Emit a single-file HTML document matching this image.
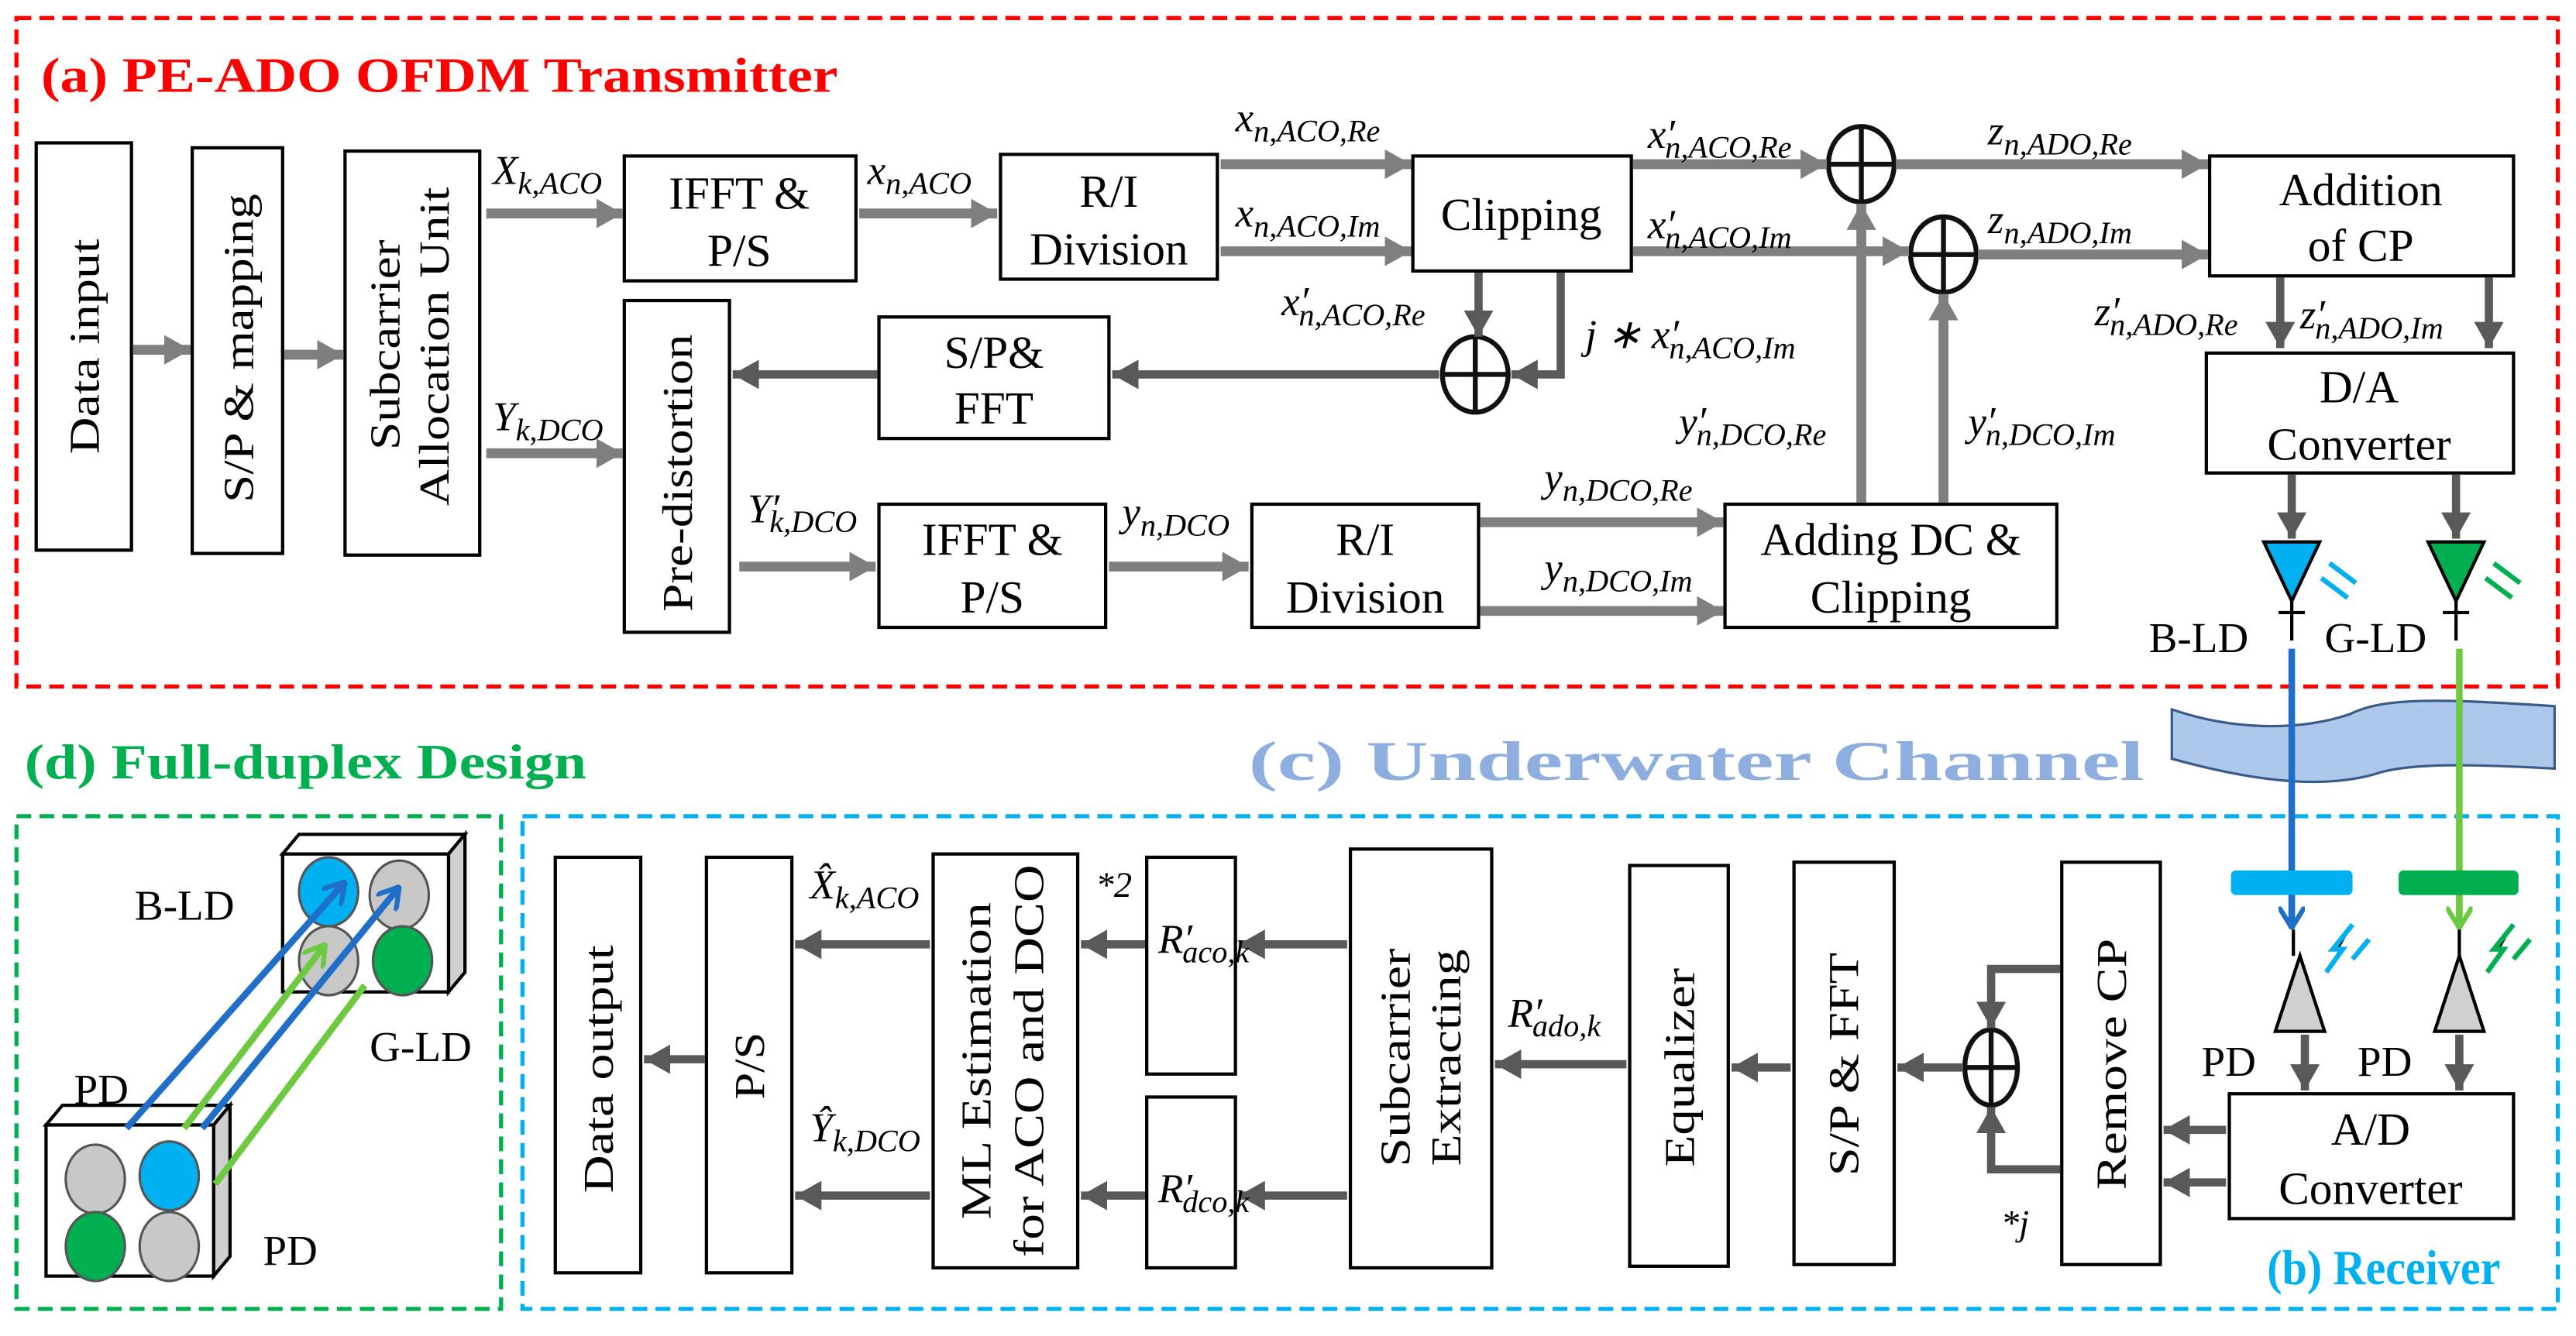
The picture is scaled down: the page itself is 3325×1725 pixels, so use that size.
<!DOCTYPE html>
<html><head><meta charset="utf-8"><style>
html,body{margin:0;padding:0;background:#fff;}
svg{display:block;}
text{font-family:"Liberation Serif",serif;}
.bt{font-size:28px;text-anchor:middle;}
.vt{font-size:26px;text-anchor:middle;}
.m{font-size:25px;font-style:italic;}
.s{font-size:19px;}
</style></head><body>
<svg width="3325" height="1725" viewBox="0 0 1568 813.5" xmlns="http://www.w3.org/2000/svg">
<defs>
<marker id="a" markerUnits="userSpaceOnUse" markerWidth="16" markerHeight="18" refX="16" refY="9" orient="auto"><path d="M0,0L16,9L0,18z" fill="#7f7f7f"/></marker>
<marker id="d" markerUnits="userSpaceOnUse" markerWidth="16" markerHeight="18" refX="16" refY="9" orient="auto"><path d="M0,0L16,9L0,18z" fill="#595959"/></marker>
<marker id="bl" markerUnits="userSpaceOnUse" markerWidth="14" markerHeight="16" refX="13" refY="8" orient="auto"><path d="M0,0L13,8L0,16" fill="none" stroke="#1f6fc8" stroke-width="3"/></marker>
<marker id="gr" markerUnits="userSpaceOnUse" markerWidth="14" markerHeight="16" refX="13" refY="8" orient="auto"><path d="M0,0L13,8L0,16" fill="none" stroke="#6cc940" stroke-width="3"/></marker>
</defs>
<rect width="1568" height="813.5" fill="#fff"/>
<rect x="10" y="11" width="1547" height="407" fill="none" stroke="#ff0000" stroke-width="2.5" stroke-dasharray="9,5"/>
<rect x="10" y="497" width="295" height="300" fill="none" stroke="#00b050" stroke-width="2.5" stroke-dasharray="9,5"/>
<rect x="318" y="497" width="1239" height="300" fill="none" stroke="#00b0f0" stroke-width="2.5" stroke-dasharray="9,5"/>
<text x="25" y="56" font-size="30" font-weight="bold" fill="#ff0000" textLength="485" lengthAdjust="spacingAndGlyphs">(a) PE-ADO OFDM Transmitter</text>
<text x="15" y="474" font-size="30" font-weight="bold" fill="#00b050" textLength="342" lengthAdjust="spacingAndGlyphs">(d) Full-duplex Design</text>
<text x="760" y="475" font-size="34" font-weight="bold" fill="#8eaee0" textLength="545" lengthAdjust="spacingAndGlyphs">(c) Underwater Channel</text>
<text x="1380" y="782" font-size="30" font-weight="bold" fill="#00b0f0" textLength="142" lengthAdjust="spacingAndGlyphs">(b) Receiver</text>

<g fill="#fff" stroke="#000" stroke-width="2">
<rect x="22" y="87" width="58" height="248"/>
<rect x="117" y="90" width="55" height="247"/>
<rect x="210" y="92" width="82" height="246"/>
<rect x="380" y="95" width="141" height="76"/>
<rect x="609" y="94" width="132" height="76"/>
<rect x="860" y="95" width="133" height="70"/>
<rect x="1345" y="95" width="185" height="73"/>
<rect x="1343" y="215" width="187" height="73"/>
<rect x="380" y="183" width="64" height="202"/>
<rect x="535" y="193" width="140" height="74"/>
<rect x="535" y="307" width="138" height="75"/>
<rect x="762" y="307" width="138" height="75"/>
<rect x="1050" y="307" width="202" height="75"/>
<rect x="338" y="522" width="52" height="253"/>
<rect x="430" y="522" width="52" height="253"/>
<rect x="568" y="520" width="88" height="252"/>
<rect x="698" y="522" width="54" height="132"/>
<rect x="698" y="668" width="54" height="104"/>
<rect x="822" y="517" width="86" height="255"/>
<rect x="992" y="527" width="60" height="244"/>
<rect x="1092" y="525" width="61" height="245"/>
<rect x="1255" y="525" width="60" height="245"/>
<rect x="1357" y="666" width="173" height="76"/>
</g>
<g class="vt" lengthAdjust="spacingAndGlyphs">
<text transform="translate(60,211) rotate(-90)" textLength="131" lengthAdjust="spacingAndGlyphs">Data input</text>
<text transform="translate(154,212) rotate(-90)" textLength="188" lengthAdjust="spacingAndGlyphs">S/P &amp; mapping</text>
<text transform="translate(243,210) rotate(-90)" textLength="128" lengthAdjust="spacingAndGlyphs">Subcarrier</text>
<text transform="translate(273,211) rotate(-90)" textLength="194" lengthAdjust="spacingAndGlyphs">Allocation Unit</text>
<text transform="translate(421,288) rotate(-90)" textLength="169" lengthAdjust="spacingAndGlyphs">Pre-distortion</text>
<text transform="translate(373,651) rotate(-90)" textLength="151" lengthAdjust="spacingAndGlyphs">Data output</text>
<text transform="translate(465,649) rotate(-90)" textLength="41" lengthAdjust="spacingAndGlyphs">P/S</text>
<text transform="translate(603,646) rotate(-90)" textLength="193" lengthAdjust="spacingAndGlyphs">ML Estimation</text>
<text transform="translate(635,646) rotate(-90)" textLength="239" lengthAdjust="spacingAndGlyphs">for ACO and DCO</text>
<text transform="translate(858,644) rotate(-90)" textLength="133" lengthAdjust="spacingAndGlyphs">Subcarrier</text>
<text transform="translate(889,644) rotate(-90)" textLength="132" lengthAdjust="spacingAndGlyphs">Extracting</text>
<text transform="translate(1031,650) rotate(-90)" textLength="121" lengthAdjust="spacingAndGlyphs">Equalizer</text>
<text transform="translate(1131,648) rotate(-90)" textLength="136" lengthAdjust="spacingAndGlyphs">S/P &amp; FFT</text>
<text transform="translate(1294,648) rotate(-90)" textLength="153" lengthAdjust="spacingAndGlyphs">Remove CP</text>
</g>
<g class="bt">
<text x="450" y="127">IFFT &amp;</text><text x="450" y="162">P/S</text>
<text x="675" y="126">R/I</text><text x="675" y="161">Division</text>
<text x="926" y="140">Clipping</text>
<text x="1437" y="125">Addition</text><text x="1437" y="159">of CP</text>
<text x="1436" y="245">D/A</text><text x="1436" y="280">Converter</text>
<text x="605" y="224">S/P&amp;</text><text x="605" y="258">FFT</text>
<text x="604" y="338">IFFT &amp;</text><text x="604" y="373">P/S</text>
<text x="831" y="338">R/I</text><text x="831" y="373">Division</text>
<text x="1151" y="338">Adding DC &amp;</text><text x="1151" y="373">Clipping</text>
<text x="1443" y="697">A/D</text><text x="1443" y="733">Converter</text>
</g>
<g fill="#fff" stroke="#111" stroke-width="3">
<ellipse cx="1133" cy="100" rx="20" ry="23"/><path d="M1113,100H1153M1133,77V123"/>
<ellipse cx="1183" cy="155" rx="20" ry="23"/><path d="M1163,155H1203M1183,132V178"/>
<ellipse cx="898" cy="228" rx="20" ry="23"/><path d="M878,228H918M898,205V251"/>
<ellipse cx="1212" cy="650" rx="16" ry="23"/><path d="M1196,650H1228M1212,627V673"/>
</g>
<g stroke="#7f7f7f" stroke-width="6" fill="none" marker-end="url(#a)">
<path d="M81,213H116"/><path d="M173,216H209"/>
<path d="M296,130H379"/><path d="M523,130H607"/>
<path d="M743,100H859"/><path d="M743,153H859"/>
<path d="M994,100H1112"/><path d="M1154,100H1344"/>
<path d="M994,153H1162"/><path d="M1204,155H1344"/>
<path d="M296,276H379"/><path d="M450,345H533"/><path d="M675,345H760"/>
<path d="M901,318H1049"/><path d="M901,372H1049"/>
<path d="M1133,306V124"/><path d="M1183,306V179"/>
</g>
<g stroke="#595959" stroke-width="5" fill="none" marker-end="url(#d)">
<path d="M900,166V205"/><path d="M950,166V228H920"/>
<path d="M876,228H677"/><path d="M534,228H446"/>
<path d="M1388,169V212"/><path d="M1515,169V212"/>
<path d="M1395,289V328"/><path d="M1495,289V328"/>
<path d="M1355,688H1317"/><path d="M1355,720H1317"/>
<path d="M1254,590H1212V626"/><path d="M1254,712H1212V674"/>
<path d="M1195,650H1155"/><path d="M1090,650H1054"/><path d="M990,648H910"/>
<path d="M820,575H754"/><path d="M820,728H754"/>
<path d="M697,575H658"/><path d="M697,728H658"/>
<path d="M566,575H484"/><path d="M566,728H484"/>
<path d="M429,645H392"/>
<path d="M1403,630V664"/><path d="M1497,630V664"/>
</g>
<g class="m">
<text x="300" y="112">X<tspan class="s" dy="6">k,ACO</tspan></text>
<text x="528" y="112">x<tspan class="s" dy="6">n,ACO</tspan></text>
<text x="752" y="80">x<tspan class="s" dy="6">n,ACO,Re</tspan></text>
<text x="752" y="138">x<tspan class="s" dy="6">n,ACO,Im</tspan></text>
<text x="1003" y="90">x′<tspan class="s" dy="6" dx="-6">n,ACO,Re</tspan></text>
<text x="1003" y="145">x′<tspan class="s" dy="6" dx="-6">n,ACO,Im</tspan></text>
<text x="1210" y="88">z<tspan class="s" dy="6">n,ADO,Re</tspan></text>
<text x="1210" y="142">z<tspan class="s" dy="6">n,ADO,Im</tspan></text>
<text x="780" y="192">x′<tspan class="s" dy="6" dx="-6">n,ACO,Re</tspan></text>
<text x="965" y="212">j ∗ x′<tspan class="s" dy="6" dx="-6">n,ACO,Im</tspan></text>
<text x="300" y="262">Y<tspan class="s" dy="6">k,DCO</tspan></text>
<text x="455" y="318">Y′<tspan class="s" dy="6" dx="-6">k,DCO</tspan></text>
<text x="683" y="320">y<tspan class="s" dy="6">n,DCO</tspan></text>
<text x="940" y="299">y<tspan class="s" dy="6">n,DCO,Re</tspan></text>
<text x="940" y="354">y<tspan class="s" dy="6">n,DCO,Im</tspan></text>
<text x="1022" y="265">y′<tspan class="s" dy="6" dx="-6">n,DCO,Re</tspan></text>
<text x="1198" y="265">y′<tspan class="s" dy="6" dx="-6">n,DCO,Im</tspan></text>
<text x="1275" y="198">z′<tspan class="s" dy="6" dx="-6">n,ADO,Re</tspan></text>
<text x="1400" y="200">z′<tspan class="s" dy="6" dx="-6">n,ADO,Im</tspan></text>
<text x="493" y="547">X̂<tspan class="s" dy="6">k,ACO</tspan></text>
<text x="493" y="695">Ŷ<tspan class="s" dy="6">k,DCO</tspan></text>
<text x="667" y="546" font-size="22">*2</text>
<text x="705" y="580">R′<tspan class="s" dy="6" dx="-6">aco,k</tspan></text>
<text x="705" y="732">R′<tspan class="s" dy="6" dx="-6">dco,k</tspan></text>
<text x="918" y="625">R′<tspan class="s" dy="6" dx="-6">ado,k</tspan></text>
<text x="1218" y="752" font-size="22">*j</text>
</g>
<path d="M1378,330H1412L1395,366Z" fill="#00b0f0" stroke="#000" stroke-width="2"/>
<path d="M1478,330H1512L1495,366Z" fill="#00b050" stroke="#000" stroke-width="2"/>
<path d="M1395,366V390M1387,373H1403M1495,366V390M1487,373H1503" stroke="#000" stroke-width="2"/>
<g stroke="#00b0f0" stroke-width="3"><path d="M1418,343L1434,355"/><path d="M1413,352L1429,364"/></g>
<g stroke="#00b050" stroke-width="3"><path d="M1518,343L1534,355"/><path d="M1513,352L1529,364"/></g>
<text x="1308" y="397" font-size="26">B-LD</text>
<text x="1415" y="397" font-size="26">G-LD</text>
<path d="M1322,432C1360,445 1400,445 1430,435C1450,425 1480,425 1555,430L1555,468C1500,465 1470,465 1450,470C1420,480 1380,478 1322,462Z" fill="#adc8ea" stroke="#3a5a8a" stroke-width="1.5"/>
<path d="M1395,395V565" stroke="#1f6fc8" stroke-width="4" fill="none" marker-end="url(#bl)"/>
<path d="M1497,395V565" stroke="#6cc940" stroke-width="4" fill="none" marker-end="url(#gr)"/>
<rect x="1358" y="530" width="74" height="15" rx="3" fill="#00b0f0"/>
<rect x="1460" y="530" width="73" height="15" rx="3" fill="#00b050"/>
<path d="M1395,545V565" stroke="#1f6fc8" stroke-width="4"/>
<path d="M1497,545V565" stroke="#6cc940" stroke-width="4"/>
<path d="M1396,566V582M1497,566V582" stroke="#000" stroke-width="2"/>
<path d="M1400,582L1385,628H1415Z" fill="#d0d0d0" stroke="#000" stroke-width="2"/>
<path d="M1497,582L1482,628H1512Z" fill="#d0d0d0" stroke="#000" stroke-width="2"/>
<g stroke="#00b0f0" stroke-width="3"><path d="M1432,563L1420,578L1426,578L1416,592"/><path d="M1442,572L1432,584"/></g>
<g stroke="#00b050" stroke-width="3"><path d="M1530,563L1518,578L1524,578L1514,592"/><path d="M1540,572L1530,584"/></g>
<text x="1340" y="655" font-size="26">PD</text>
<text x="1435" y="655" font-size="26">PD</text>
<g stroke="#000" stroke-width="2">
<path d="M172,520L182,508H283L273,520Z" fill="#fff"/>
<path d="M273,520L283,508V592L273,604Z" fill="#d0d0d0"/>
<rect x="172" y="520" width="101" height="84" fill="#fff"/>
<path d="M28,685L38,673H140L130,685Z" fill="#fff"/>
<path d="M130,685L140,673V765L130,777Z" fill="#d0d0d0"/>
<rect x="28" y="685" width="102" height="92" fill="#fff"/>
</g>
<g stroke="#555" stroke-width="1.5">
<ellipse cx="200" cy="543" rx="18" ry="21" fill="#00b0f0"/>
<ellipse cx="243" cy="545" rx="18" ry="21" fill="#c8c8c8"/>
<ellipse cx="200" cy="585" rx="18" ry="21" fill="#c8c8c8"/>
<ellipse cx="245" cy="585" rx="18" ry="21" fill="#00b050"/>
<ellipse cx="58" cy="718" rx="18" ry="21" fill="#c8c8c8"/>
<ellipse cx="103" cy="716" rx="18" ry="21" fill="#00b0f0"/>
<ellipse cx="58" cy="759" rx="18" ry="21" fill="#00b050"/>
<ellipse cx="103" cy="759" rx="18" ry="21" fill="#c8c8c8"/>
</g>
<path d="M77,687L210,537" stroke="#1f6fc8" stroke-width="4" fill="none" marker-end="url(#bl)"/>
<path d="M123,687L243,540" stroke="#1f6fc8" stroke-width="4" fill="none" marker-end="url(#bl)"/>
<path d="M112,687L198,575" stroke="#6cc940" stroke-width="4" fill="none" marker-end="url(#gr)"/>
<path d="M131,721L222,600" stroke="#6cc940" stroke-width="4" fill="none"/>
<text x="82" y="560" font-size="26">B-LD</text>
<text x="225" y="646" font-size="26">G-LD</text>
<text x="45" y="672" font-size="26">PD</text>
<text x="160" y="770" font-size="26">PD</text>
</svg>
</body></html>
